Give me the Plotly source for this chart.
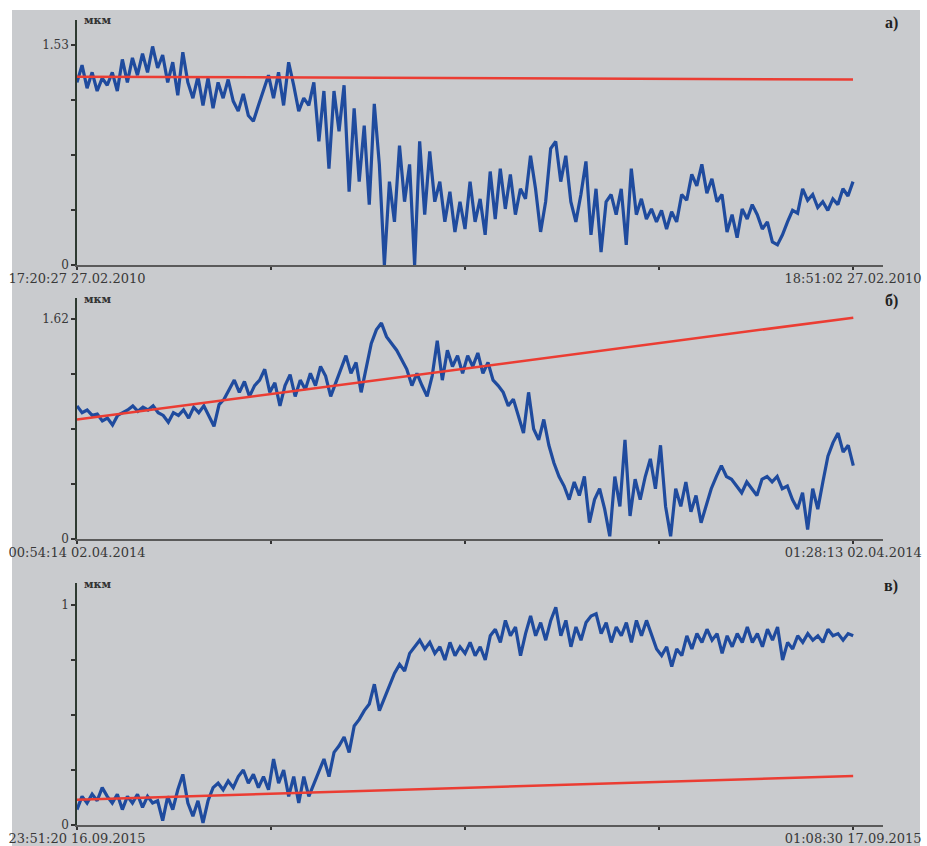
import pandas as pd
import plotly.graph_objects as go

# ---------------- data ----------------
a_start, a_end = "2010-02-27 17:20:27", "2010-02-27 18:51:02"
a_vals = [1.27, 1.39, 1.23, 1.34, 1.21, 1.30, 1.25, 1.34, 1.21, 1.43, 1.27, 1.44, 1.32, 1.47, 1.34,
          1.52, 1.37, 1.46, 1.27, 1.41, 1.18, 1.48, 1.27, 1.16, 1.31, 1.11, 1.30, 1.09, 1.27, 1.16,
          1.29, 1.14, 1.07, 1.19, 1.04, 1.00, 1.11, 1.21, 1.32, 1.16, 1.34, 1.11, 1.41, 1.25, 1.07,
          1.16, 1.11, 1.27, 0.86, 1.21, 0.67, 1.21, 0.93, 1.25, 0.51, 1.09, 0.58, 0.97, 0.42, 1.12,
          0.70, 0.00, 0.58, 0.30, 0.83, 0.44, 0.70, 0.00, 0.86, 0.35, 0.79, 0.44, 0.58, 0.30, 0.51,
          0.23, 0.44, 0.25, 0.58, 0.30, 0.46, 0.21, 0.65, 0.32, 0.67, 0.39, 0.63, 0.35, 0.53, 0.46,
          0.76, 0.53, 0.23, 0.44, 0.81, 0.86, 0.58, 0.76, 0.44, 0.30, 0.49, 0.72, 0.21, 0.53, 0.09,
          0.44, 0.49, 0.35, 0.53, 0.14, 0.67, 0.35, 0.46, 0.32, 0.39, 0.30, 0.38, 0.25, 0.37, 0.30,
          0.49, 0.45, 0.63, 0.55, 0.70, 0.50, 0.60, 0.44, 0.49, 0.23, 0.35, 0.19, 0.39, 0.32, 0.42,
          0.35, 0.25, 0.30, 0.16, 0.14, 0.21, 0.30, 0.38, 0.36, 0.53, 0.45, 0.49, 0.40, 0.44, 0.38,
          0.46, 0.42, 0.53, 0.48, 0.58]
a_trend = [1.31, 1.29]

b_start, b_end = "2014-04-02 00:54:14", "2014-04-02 01:28:13"
b_vals = [0.98, 0.93, 0.95, 0.91, 0.92, 0.87, 0.89, 0.84, 0.91, 0.93, 0.95, 0.98, 0.94, 0.97, 0.95,
          0.98, 0.93, 0.91, 0.86, 0.93, 0.91, 0.95, 0.89, 0.97, 0.93, 0.98, 0.91, 0.83, 0.99, 1.03,
          1.10, 1.17, 1.08, 1.16, 1.05, 1.13, 1.17, 1.25, 1.08, 1.15, 0.98, 1.13, 1.21, 1.05, 1.17,
          1.10, 1.22, 1.13, 1.27, 1.20, 1.05, 1.15, 1.25, 1.35, 1.22, 1.30, 1.08, 1.27, 1.44, 1.54,
          1.59, 1.49, 1.44, 1.39, 1.32, 1.25, 1.13, 1.22, 1.13, 1.05, 1.20, 1.46, 1.17, 1.39, 1.27,
          1.35, 1.22, 1.35, 1.27, 1.37, 1.22, 1.30, 1.17, 1.13, 1.08, 0.98, 1.03, 0.91, 0.78, 1.08,
          0.81, 0.73, 0.88, 0.69, 0.56, 0.46, 0.39, 0.29, 0.42, 0.32, 0.46, 0.12, 0.29, 0.37, 0.22,
          0.02, 0.46, 0.24, 0.73, 0.17, 0.44, 0.29, 0.46, 0.59, 0.37, 0.69, 0.24, 0.02, 0.37, 0.24,
          0.42, 0.20, 0.32, 0.12, 0.24, 0.37, 0.46, 0.54, 0.46, 0.44, 0.39, 0.34, 0.42, 0.37, 0.32,
          0.44, 0.46, 0.42, 0.46, 0.37, 0.39, 0.29, 0.22, 0.34, 0.07, 0.37, 0.22, 0.42, 0.61, 0.71,
          0.78, 0.64, 0.69, 0.54]
b_trend = [0.88, 1.63]

c_start, c_end = "2015-09-16 23:51:20", "2015-09-17 01:08:30"
c_vals = [0.07, 0.13, 0.10, 0.14, 0.11, 0.17, 0.13, 0.10, 0.14, 0.07, 0.13, 0.10, 0.14, 0.08, 0.13,
          0.10, 0.11, 0.02, 0.13, 0.07, 0.16, 0.23, 0.10, 0.04, 0.11, 0.01, 0.11, 0.17, 0.19, 0.16,
          0.20, 0.17, 0.22, 0.25, 0.19, 0.23, 0.17, 0.22, 0.16, 0.30, 0.19, 0.25, 0.13, 0.22, 0.10,
          0.22, 0.13, 0.19, 0.25, 0.30, 0.22, 0.33, 0.36, 0.40, 0.33, 0.45, 0.48, 0.52, 0.55, 0.64,
          0.52, 0.58, 0.63, 0.69, 0.73, 0.70, 0.78, 0.81, 0.84, 0.80, 0.83, 0.78, 0.81, 0.75, 0.83,
          0.77, 0.81, 0.78, 0.83, 0.77, 0.81, 0.75, 0.86, 0.89, 0.83, 0.93, 0.86, 0.90, 0.77, 0.87,
          0.95, 0.86, 0.92, 0.84, 0.93, 0.99, 0.86, 0.93, 0.81, 0.90, 0.84, 0.92, 0.95, 0.96, 0.87,
          0.92, 0.83, 0.90, 0.86, 0.92, 0.83, 0.93, 0.86, 0.93, 0.86, 0.80, 0.77, 0.81, 0.72, 0.80,
          0.77, 0.86, 0.80, 0.87, 0.83, 0.89, 0.84, 0.87, 0.78, 0.86, 0.81, 0.87, 0.83, 0.90, 0.83,
          0.87, 0.81, 0.89, 0.84, 0.90, 0.75, 0.83, 0.80, 0.86, 0.83, 0.87, 0.84, 0.86, 0.83, 0.89,
          0.86, 0.87, 0.84, 0.87, 0.86]
c_trend = [0.115, 0.223]

y_tops = [1.53, 1.62, 1]
y_top_labels = ["1.53", "1.62", "1"]
panel_labels = ["а)", "б)", "в)"]
unit_label = "мкм"

# ---------------- layout constants (pixels) ----------------
W, H = 927, 846
BG = "#c9cbce"
BLUE = "#1f4b9e"
RED = "#eb3d33"
TXT = "#383838"
SERIF = "DejaVu Serif, Liberation Serif, serif"

X_LEFT, X_END_TICK, X_AXIS_END = 77, 853, 883
# per panel: pixel y of value 0, of top tick, of axis top
panel_px = [(265, 45, 20), (539, 319, 298), (825, 605, 583)]

fig = go.Figure()
fig.add_shape(type="rect", xref="paper", yref="paper",
              x0=12 / W, x1=920 / W, y0=0, y1=1 - 10 / H,
              fillcolor=BG, line_width=0, layer="below")

panels = [(a_start, a_end, a_vals, a_trend), (b_start, b_end, b_vals, b_trend),
          (c_start, c_end, c_vals, c_trend)]

for i, (t0, t1, vals, trend) in enumerate(panels):
    n = i + 1
    xa = "x" if n == 1 else f"x{n}"
    ya = "y" if n == 1 else f"y{n}"
    start, end = pd.Timestamp(t0), pd.Timestamp(t1)
    times = pd.date_range(start, end, periods=len(vals))
    fig.add_trace(go.Scatter(x=times, y=vals, mode="lines", xaxis=xa, yaxis=ya,
                             line=dict(color=BLUE, width=3.2), showlegend=False,
                             hoverinfo="skip"))
    fig.add_trace(go.Scatter(x=[start, end], y=trend, mode="lines", xaxis=xa, yaxis=ya,
                             line=dict(color=RED, width=2.5), showlegend=False,
                             hoverinfo="skip"))

    dur = end - start
    x_max = end + dur * ((X_AXIS_END - X_END_TICK) / (X_END_TICK - X_LEFT))
    tick_times = list(pd.date_range(start, end, periods=5))
    tick_text = [start.strftime("%H:%M:%S %d.%m.%Y"), "", "", "", end.strftime("%H:%M:%S %d.%m.%Y")]

    p0, ptop, paxis = panel_px[i]
    ymax = y_tops[i] * (p0 - paxis) / (p0 - ptop)
    xdom = [X_LEFT / W, X_AXIS_END / W]
    ydom = [1 - p0 / H, 1 - paxis / H]

    xkey = "xaxis" if n == 1 else f"xaxis{n}"
    ykey = "yaxis" if n == 1 else f"yaxis{n}"
    fig.update_layout({
        xkey: dict(domain=xdom, anchor=ya, type="date", range=[start, x_max], automargin=False,
                   showgrid=False, zeroline=False, showline=True, linecolor="#5a5a5a",
                   linewidth=2, ticks="outside", ticklen=3, tickwidth=1.5, tickcolor="#333",
                   tickvals=tick_times, ticktext=tick_text, ticklabelstandoff=-3,
                   tickfont=dict(family=SERIF, size=13, color=TXT)),
        ykey: dict(domain=ydom, anchor=xa, range=[0, ymax], automargin=False,
                   showgrid=False, zeroline=False, showline=True, linecolor="#2e3a30",
                   linewidth=1.5, ticks="outside", ticklen=4, tickwidth=1.5, tickcolor="#333",
                   tickvals=[y_tops[i] * k / 4 for k in range(5)],
                   ticktext=["0", "", "", "", y_top_labels[i]],
                   tickfont=dict(family=SERIF, size=12, color=TXT)),
    })
    # unit label at the top of the y axis
    fig.add_annotation(xref="paper", yref="paper", x=(X_LEFT + 5) / W, y=1 - (paxis + 1) / H,
                       xanchor="left", yanchor="middle", text=f"<b>{unit_label}</b>",
                       showarrow=False, font=dict(family=SERIF, size=11, color="#333"))
    # panel letter
    fig.add_annotation(xref="paper", yref="paper", x=891 / W, y=1 - (paxis + 3) / H,
                       xanchor="center", yanchor="middle", text=f"<b>{panel_labels[i]}</b>",
                       showarrow=False, font=dict(family="Liberation Serif, serif", size=16,
                                                  color="#222"))

fig.update_layout(width=W, height=H, margin=dict(l=0, r=0, t=0, b=0, autoexpand=False),
                  paper_bgcolor="white", plot_bgcolor=BG, template="none")

fig.write_html("out.html")
